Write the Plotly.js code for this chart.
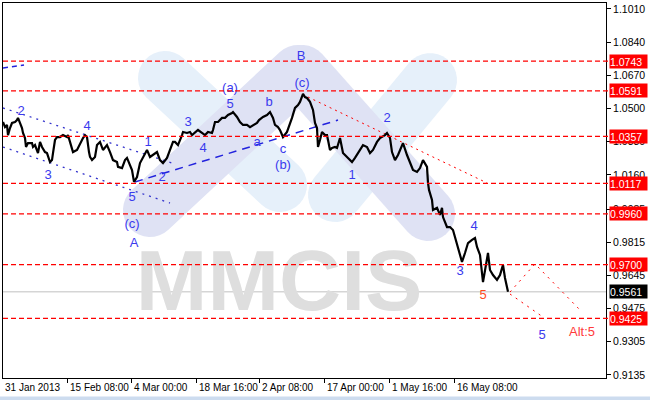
<!DOCTYPE html>
<html><head><meta charset="utf-8">
<script src="https://cdn.plot.ly/plotly-3.0.1.min.js"></script>
<style>html,body{margin:0;padding:0;background:#fff}#chart{width:650px;height:400px}</style>
</head><body><div id="chart"></div>
<script>
// ---- data (bar index from left edge, price) ----
const bars = [0,2,4,5,7,9,12,14,15,17,19,20,22,23,25,29,30,32,34,35,37,39,42,44,47,49,50,52,54,57,60,64,65,67,70,74,77,80,82,84,86,87,89,92,94,97,100,104,107,110,114,115,119,122,124,127,129,131,134,137,140,144,147,150,154,157,160,164,167,170,172,175,179,180,184,187,189,192,195,199,202,205,209,210,212,215,219,222,225,229,230,234,237,240,244,247,250,254,256,260,264,267,270,272,275,277,280,284,289,292,295,297,300,302,304,307,310,312,314,315,317,319,322,324,325,327,329,332,334,337,340,344,349,352,355,360,364,367,370,374,377,382,384,387,389,392,395,399,400,404,407,410,414,417,420,424,425,426,429,430,434,437,439,440,444,447,450,452,455,459,462,465,469,472,474,477,480,482,485,487,490,494,497,500,502,505];
const price = [1.0431,1.0405,1.0416,1.0364,1.0400,1.0426,1.0431,1.0441,1.0452,1.0426,1.0400,1.0375,1.0349,1.0303,1.0323,1.0323,1.0303,1.0313,1.0288,1.0272,1.0329,1.0303,1.0277,1.0272,1.0226,1.0236,1.0272,1.0339,1.0354,1.0354,1.0364,1.0354,1.0364,1.0323,1.0277,1.0288,1.0323,1.0349,1.0364,1.0354,1.0277,1.0252,1.0236,1.0252,1.0313,1.0329,1.0288,1.0313,1.0277,1.0236,1.0226,1.0201,1.0195,1.0236,1.0247,1.0211,1.0185,1.0124,1.0149,1.0221,1.0247,1.0288,1.0252,1.0262,1.0277,1.0236,1.0221,1.0247,1.0288,1.0329,1.0329,1.0313,1.0364,1.0380,1.0375,1.0380,1.0364,1.0375,1.0390,1.0375,1.0364,1.0380,1.0375,1.0390,1.0431,1.0431,1.0452,1.0452,1.0467,1.0477,1.0482,1.0457,1.0431,1.0416,1.0416,1.0405,1.0416,1.0426,1.0441,1.0457,1.0467,1.0482,1.0452,1.0416,1.0405,1.0390,1.0354,1.0380,1.0452,1.0503,1.0518,1.0534,1.0575,1.0559,1.0554,1.0534,1.0493,1.0426,1.0400,1.0303,1.0339,1.0380,1.0364,1.0364,1.0339,1.0288,1.0298,1.0303,1.0298,1.0349,1.0272,1.0252,1.0226,1.0247,1.0272,1.0313,1.0303,1.0272,1.0288,1.0329,1.0349,1.0364,1.0375,1.0349,1.0277,1.0236,1.0262,1.0313,1.0323,1.0262,1.0221,1.0185,1.0175,1.0195,1.0236,1.0201,1.0119,1.0083,1.0032,0.9980,0.9991,0.9955,0.9991,0.9944,0.9893,0.9893,0.9878,0.9842,0.9775,0.9714,0.9760,0.9811,0.9827,0.9837,0.9791,0.9750,0.9611,0.9673,0.9760,0.9673,0.9647,0.9622,0.9647,0.9699,0.9632,0.9561];

const xTickBars = [0,64,128,193,256,321,386,451];
const xTickText = ['31 Jan 2013','15 Feb 08:00','4 Mar 00:00','18 Mar 16:00','2 Apr 08:00','17 Apr 00:00','1 May 16:00','16 May 08:00'];
const yTickVals = [1.1010,1.0840,1.0670,1.0500,1.0330,1.0160,0.9985,0.9815,0.9645,0.9475,0.9305,0.9135];

const levels = [1.0743,1.0591,1.0357,1.0117,0.9960,0.9700,0.9425];
const currentPrice = 0.9561;

// trend lines [bar0, bar1], [price0, price1]
const chanUpperBars = [0,169],  chanUpperPrice = [1.0503,1.0221];
const chanLowerBars = [0,167],  chanLowerPrice = [1.0303,1.0016];
const chanTopBars   = [0,21],   chanTopPrice   = [1.0708,1.0723];
const trendBars     = [132,335], trendPrice    = [1.0124,1.0441];
const resistBars    = [305,484], resistPrice   = [1.0559,1.0119];
const altPathBars   = [507,532,577], altPathPrice = [0.9560,0.9704,0.9468];
const mainPathBars  = [507,540],     mainPathPrice = [0.9550,0.9432];

// wave labels
const waveText  = ['2','3','4','5','(c)','A','1','2','3','4','5','(a)','a','b','c','(b)','(c)','B','1','2','3','4','5','5','Alt:5'];
const waveBars  = [18,45,84,129,129,131,145,159,185,200,227,227,254,266,280,280,299,298,349,384,457,471,480,539,579];
const wavePrice = [1.0482,1.0154,1.0405,1.0042,0.9903,0.9806,1.0323,1.0144,1.0426,1.0293,1.0518,1.0600,1.0323,1.0528,1.0288,1.0206,1.0626,1.0764,1.0154,1.0446,0.9663,0.9893,0.9540,0.9335,0.9350];

// ---- styling ----
const BLUE = '#3a3aee';
const waveColors = waveText.map((t,i)=> i===22 ? '#ff4a1a' : (t==='Alt:5' ? '#ff3b3b' : BLUE));
const XR=[0,603], YR=[0.91196,1.10407];

function toPaper(px,py){return [(px-3)/603,(378-py)/375];}
function band(x0,y0,x1,y1,w,color){
  const dx=x1-x0, dy=y1-y0, L=Math.hypot(dx,dy), ux=dx/L, uy=dy/L, nx=-uy, ny=ux, h=w/2;
  const pts=[];
  for(let i=0;i<=16;i++){const t=Math.PI/2-Math.PI*i/16;
    pts.push([x1+h*(Math.cos(t)*ux+Math.sin(t)*nx), y1+h*(Math.cos(t)*uy+Math.sin(t)*ny)]);}
  for(let i=0;i<=16;i++){const t=-Math.PI/2-Math.PI*i/16;
    pts.push([x0+h*(Math.cos(t)*ux+Math.sin(t)*nx), y0+h*(Math.cos(t)*uy+Math.sin(t)*ny)]);}
  const p = pts.map((q,i)=>{const r=toPaper(q[0],q[1]);return (i?'L':'M')+r[0].toFixed(4)+','+r[1].toFixed(4);}).join(' ')+' Z';
  return {type:'path',xref:'paper',yref:'paper',path:p,fillcolor:color,line:{width:0},layer:'below'};
}
const LB='#e6f0fa', LV='#dfe2f4';
const shapes = [
  band(165,78,280,185,54,LB),
  band(335,195,430,80,54,LB),
  band(150,210,298,72,54,LV),
  band(302,72,428,214,54,LV)
];
levels.forEach(v=>shapes.push({type:'line',xref:'paper',x0:0,x1:1.007,yref:'y',y0:v,y1:v,
  line:{color:'#ff0000',width:1.2,dash:'5px,3px'},layer:'above'}));
shapes.push({type:'line',xref:'paper',x0:0,x1:1,yref:'y',y0:currentPrice,y1:currentPrice,
  line:{color:'#c0c0c0',width:1},layer:'below'});
// bottom window strip
shapes.push({type:'rect',xref:'paper',yref:'paper',x0:-0.01,x1:1.08,y0:-0.0587,y1:-0.049,fillcolor:'#cddcef',line:{width:0}});

// watermark text position (paper fractions -> axis units)
const wmX = XR[0]+0.458*(XR[1]-XR[0]);
const wmY = YR[0]+0.24*(YR[1]-YR[0]);

const traces = [
  {x:[wmX],y:[wmY],mode:'text',text:['MMCIS'],
   textfont:{family:'Liberation Sans',size:86,color:'#dedede',weight:'bold'}},
  {x:chanUpperBars,y:chanUpperPrice,mode:'lines',line:{color:'#3333cc',width:1.3,dash:'2px,5px'}},
  {x:chanLowerBars,y:chanLowerPrice,mode:'lines',line:{color:'#3333cc',width:1.3,dash:'2px,5px'}},
  {x:chanTopBars,y:chanTopPrice,mode:'lines',line:{color:'#2222dd',width:1.5,dash:'5px,4px'}},
  {x:trendBars,y:trendPrice,mode:'lines',line:{color:'#2222dd',width:1.5,dash:'8px,6px'}},
  {x:resistBars,y:resistPrice,mode:'lines',line:{color:'#ff0000',width:1,dash:'2px,4px'}},
  {x:altPathBars,y:altPathPrice,mode:'lines',line:{color:'#ff0000',width:1,dash:'2px,5px'}},
  {x:mainPathBars,y:mainPathPrice,mode:'lines',line:{color:'#ff0000',width:1,dash:'2px,5px'}},
  {x:bars,y:price,mode:'lines',line:{color:'#000000',width:2.2}},
  {x:waveBars,y:wavePrice,mode:'text',text:waveText,textposition:'middle center',
   textfont:{family:'Liberation Sans',size:13,color:waveColors}}
];
traces.forEach(t=>{t.showlegend=false;t.hoverinfo='skip';});

const annotations = levels.map(v=>({xref:'paper',x:1,xanchor:'left',xshift:3,yref:'y',y:v,yanchor:'middle',
  text:v.toFixed(4),showarrow:false,bgcolor:'#ff0000',font:{family:'Liberation Sans',size:10.5,color:'#ffffff'},
  width:37,height:13,align:'left',borderpad:0}));
annotations.push({xref:'paper',x:1,xanchor:'left',xshift:3,yref:'y',y:currentPrice,yanchor:'middle',
  text:currentPrice.toFixed(4),showarrow:false,bgcolor:'#000000',font:{family:'Liberation Sans',size:10.5,color:'#ffffff'},
  width:37,height:13,align:'left',borderpad:0});
// x tick labels, left-aligned at their tick (MetaTrader style)
xTickBars.forEach((b,i)=>annotations.push({xref:'x',x:b,xanchor:'left',xshift:i?1:0,yref:'paper',y:0,yanchor:'top',yshift:-2,
  text:xTickText[i],showarrow:false,font:{family:'Liberation Sans',size:10,color:'#000'}}));

const layout = {
  width:650,height:400,margin:{l:3,r:44,t:3,b:22},
  paper_bgcolor:'#ffffff',plot_bgcolor:'#ffffff',showlegend:false,
  font:{family:'Liberation Sans',size:10,color:'#000000'},
  xaxis:{range:XR,tickvals:xTickBars.slice(1),ticks:'outside',ticklen:4,tickcolor:'#000',showticklabels:false,
    showgrid:false,zeroline:false,showline:true,mirror:true,linecolor:'#000',linewidth:1},
  yaxis:{side:'right',range:YR,tickvals:yTickVals,ticktext:yTickVals.map(v=>v.toFixed(4)),
    ticks:'outside',ticklen:4,tickcolor:'#000',showgrid:false,zeroline:false,showline:true,mirror:true,linecolor:'#000',linewidth:1,
    tickfont:{family:'Liberation Sans',size:10.5,color:'#000'}},
  shapes:shapes,annotations:annotations
};
Plotly.newPlot('chart',traces,layout,{staticPlot:true,displayModeBar:false});
</script></body></html>
